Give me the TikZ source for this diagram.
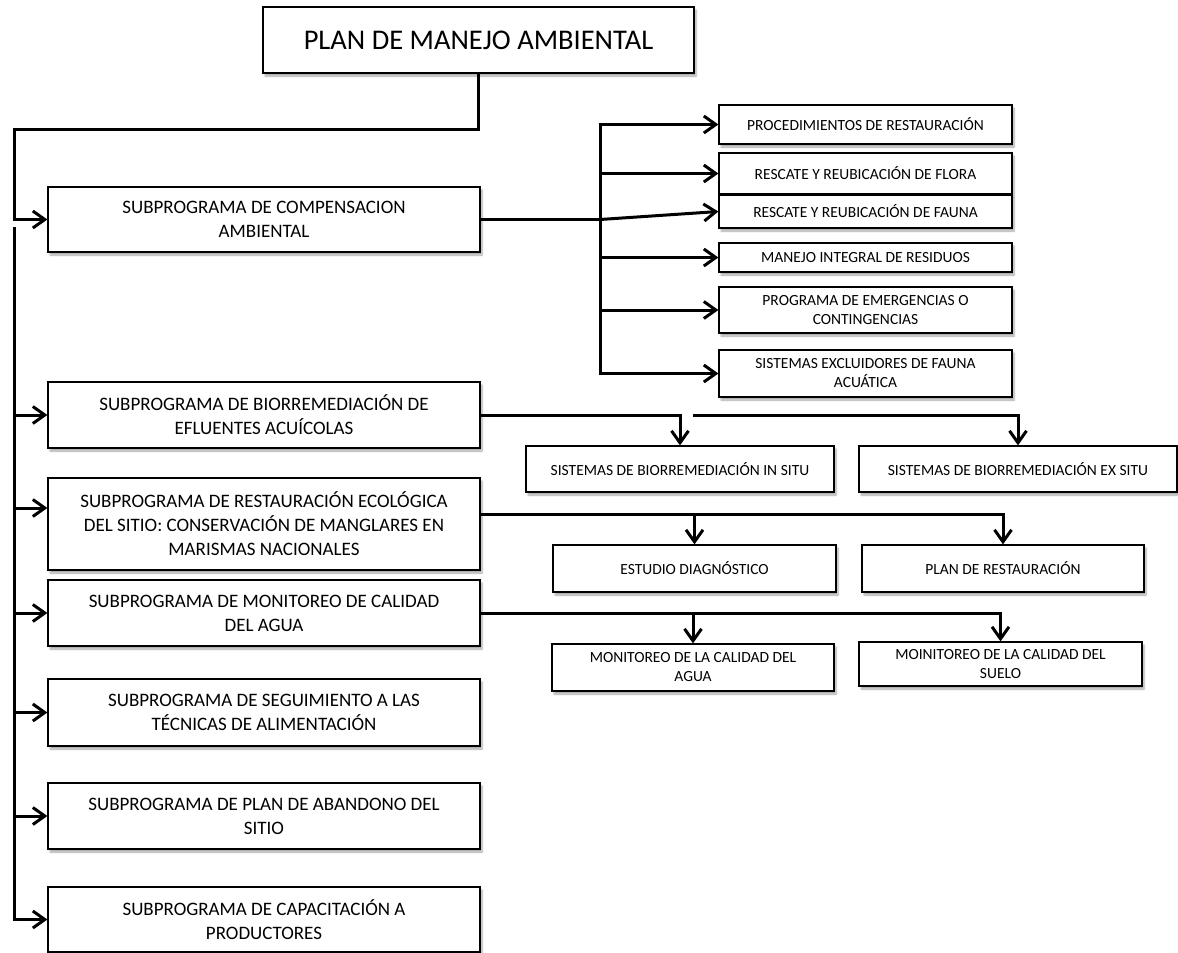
\documentclass[tikz,border=0pt]{standalone}
\usepackage{fontspec}
\setmainfont{Carlito}
\usepackage{tikz}
\usetikzlibrary{arrows.meta, positioning, shadows.blur}
\definecolor{mydark}{RGB}{0,0,0}
\definecolor{myshade}{RGB}{90,90,90}
\tikzset{
  caja/.style={rectangle, draw=mydark, fill=white, line width=1.2pt,
    align=center, inner sep=2pt,
    blur shadow={shadow xshift=2pt, shadow yshift=-3pt,
      shadow blur steps=6, shadow opacity=35}},
  subprog/.style={caja, minimum width=432pt,
    font=\fontsize{19}{24}\selectfont},
  accion/.style={caja, minimum width=293pt,
    font=\fontsize{15.5}{19}\selectfont},
  detalle/.style={caja, minimum height=46pt,
    font=\fontsize{15.5}{19}\selectfont},
  flecha/.style={-{Straight Barb[length=12pt,width=17pt]}, line width=3pt, color=mydark},
  linea/.style={line width=3pt, color=mydark}
}
\begin{document}
\begin{tikzpicture}[x=1pt, y=-1pt, line join=miter]
  \useasboundingbox (0,0) rectangle (1178,953);

  % root
  \node[caja, minimum width=431pt, minimum height=66pt,
    font=\fontsize{28.5}{32}\selectfont] (titulo) at (478.5,40) {PLAN DE MANEJO AMBIENTAL};

  % left column: subprogrammes
  \node[subprog, minimum height=65pt] (compens) at (264,219.5) {SUBPROGRAMA DE COMPENSACION\\AMBIENTAL};
  \node[subprog, minimum height=66pt] (biorr) at (264,415) {SUBPROGRAMA DE BIORREMEDIACIÓN DE\\EFLUENTES ACUÍCOLAS};
  \node[subprog, minimum height=92pt] (restaur) at (264,524) {SUBPROGRAMA DE RESTAURACIÓN ECOLÓGICA\\DEL SITIO: CONSERVACIÓN DE MANGLARES EN\\MARISMAS NACIONALES};
  \node[subprog, minimum height=66pt] (monit) at (264,613) {SUBPROGRAMA DE MONITOREO DE CALIDAD\\DEL AGUA};
  \node[subprog, minimum height=67pt] (seguim) at (264,712.5) {SUBPROGRAMA DE SEGUIMIENTO A LAS\\TÉCNICAS DE ALIMENTACIÓN};
  \node[subprog, minimum height=66pt] (abandono) at (264,816) {SUBPROGRAMA DE PLAN DE ABANDONO DEL\\SITIO};
  \node[subprog, minimum height=65pt] (capac) at (264,919.5) {SUBPROGRAMA DE CAPACITACIÓN A\\PRODUCTORES};

  % right column: compensation actions
  \node[accion, minimum height=39pt] (r1) at (865.5,124.5) {PROCEDIMIENTOS DE RESTAURACIÓN};
  \node[accion, minimum height=41pt] (r2) at (865.5,173.5) {RESCATE Y REUBICACIÓN DE FLORA};
  \node[accion, minimum height=33pt] (r3) at (865.5,211.5) {RESCATE Y REUBICACIÓN DE FAUNA};
  \node[accion, minimum height=29pt] (r4) at (865.5,257.5) {MANEJO INTEGRAL DE RESIDUOS};
  \node[accion, minimum height=46pt] (r5) at (865.5,310) {PROGRAMA DE EMERGENCIAS O\\CONTINGENCIAS};
  \node[accion, minimum height=47pt] (r6) at (865.5,373.5) {SISTEMAS EXCLUIDORES DE FAUNA\\ACUÁTICA};

  % second level boxes
  \node[detalle, minimum width=308pt] (insitu) at (680,469) {SISTEMAS DE BIORREMEDIACIÓN IN SITU};
  \node[detalle, minimum width=318pt] (exsitu) at (1018,469) {SISTEMAS DE BIORREMEDIACIÓN EX SITU};
  \node[detalle, minimum width=283pt, minimum height=47pt] (estudio) at (694.5,568.5) {ESTUDIO DIAGNÓSTICO};
  \node[detalle, minimum width=282pt, minimum height=47pt] (plan) at (1003,568.5) {PLAN DE RESTAURACIÓN};
  \node[detalle, minimum width=282pt, minimum height=47pt] (monagua) at (693,667.5) {MONITOREO DE LA CALIDAD DEL\\AGUA};
  \node[detalle, minimum width=283pt, minimum height=44pt] (monsuelo) at (1000.5,664) {MOINITOREO DE LA CALIDAD DEL\\SUELO};

  % root to first subprogramme
  \coordinate (codo) at (14,129);
  \draw[flecha] (titulo.south) |- (codo) |- (compens.west);

  % trunk for the other subprogrammes
  \coordinate (tronco) at (14,227);
  \coordinate (restaur-in) at ([yshift=16pt]restaur.west);
  \draw[flecha] (tronco) |- (capac.west);
  \foreach \n in {biorr, restaur-in, monit, seguim, abandono}
    \draw[flecha] (tronco |- \n) -- (\n);

  % bus for the compensation actions
  \coordinate (bus) at (600,0);
  \draw[linea] (compens.east) -- (bus |- compens.east);
  \draw[flecha] (bus |- compens.east) |- (r1.west);
  \draw[flecha] (bus |- compens.east) |- (r6.west);
  \foreach \n in {r2, r4, r5}
    \draw[flecha] (bus |- \n.west) -- (\n.west);
  \draw[flecha] (bus |- compens.east) -- (r3.west);

  % bioremediation
  \coordinate (corte) at (693,415);
  \draw[flecha] (biorr.east) -| (insitu.north);
  \draw[flecha] (corte) -| (exsitu.north);

  % restoration
  \coordinate (restaur-out) at ([yshift=10pt]restaur.east);
  \draw[flecha] (restaur-out) -| (estudio.north);
  \draw[flecha] (restaur-out) -| (plan.north);

  % monitoring
  \draw[flecha] (monit.east) -| (monagua.north);
  \draw[flecha] (monit.east) -| (monsuelo.north);
\end{tikzpicture}
\end{document}
